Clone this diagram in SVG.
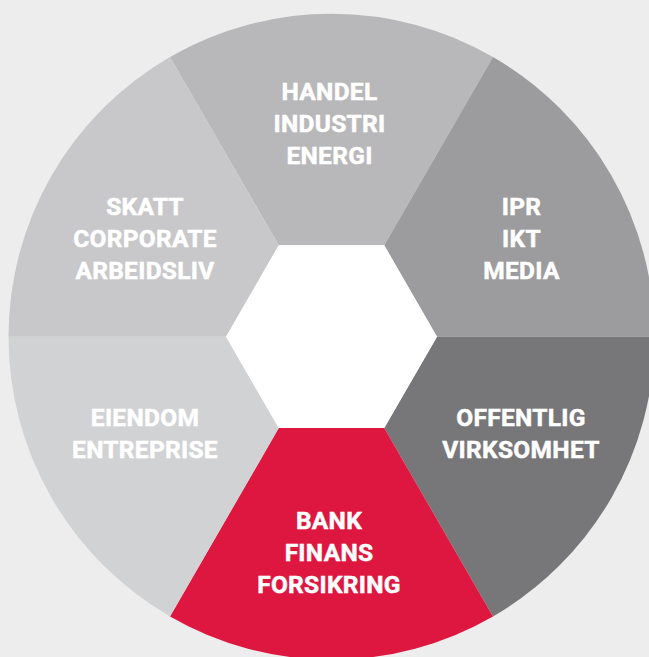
<svg xmlns="http://www.w3.org/2000/svg" width="649" height="657" viewBox="0 0 649 657">
<style>
.lbl{font-family:Roboto,"Liberation Sans",sans-serif;font-weight:bold;font-size:24.5px;letter-spacing:0.3px;fill:#ffffff;stroke:#ffffff;stroke-width:0.5px;text-anchor:middle}
</style>
<rect x="0" y="0" width="649" height="657" fill="#ededed"/>
<g id="sector-handel">
<path d="M278.75 245.3 L170 57 A323 323 0 0 1 493 57 L384.25 245.3 Z" fill="#b8b8ba"/>
<text class="lbl" x="329.5" y="99.5">HANDEL</text>
<text class="lbl" x="329.5" y="131.5">INDUSTRI</text>
<text class="lbl" x="329.5" y="163.5">ENERGI</text>
</g>
<g id="sector-ipr">
<path d="M384.25 245.3 L493 57 A323 323 0 0 1 654.5 336.7 L437 336.7 Z" fill="#9c9c9e"/>
<text class="lbl" x="521.5" y="215">IPR</text>
<text class="lbl" x="521.5" y="247">IKT</text>
<text class="lbl" x="521.5" y="279">MEDIA</text>
</g>
<g id="sector-offentlig">
<path d="M437 336.7 L654.5 336.7 A323 323 0 0 1 493 616.4 L384.25 428.1 Z" fill="#777779"/>
<text class="lbl" x="521" y="425.5">OFFENTLIG</text>
<text class="lbl" x="521" y="458">VIRKSOMHET</text>
</g>
<g id="sector-bank">
<path d="M384.25 428.1 L493 616.4 A323 323 0 0 1 170 616.4 L278.75 428.1 Z" fill="#de1740"/>
<text class="lbl" x="329" y="529">BANK</text>
<text class="lbl" x="329" y="561">FINANS</text>
<text class="lbl" x="329" y="593">FORSIKRING</text>
</g>
<g id="sector-eiendom">
<path d="M278.75 428.1 L170 616.4 A323 323 0 0 1 8.5 336.7 L226 336.7 Z" fill="#d1d2d4"/>
<text class="lbl" x="145" y="425.5">EIENDOM</text>
<text class="lbl" x="145" y="458">ENTREPRISE</text>
</g>
<g id="sector-skatt">
<path d="M226 336.7 L8.5 336.7 A323 323 0 0 1 170 57 L278.75 245.3 Z" fill="#c8c8ca"/>
<text class="lbl" x="145" y="214.5">SKATT</text>
<text class="lbl" x="145" y="247">CORPORATE</text>
<text class="lbl" x="145" y="279">ARBEIDSLIV</text>
</g>
<g id="hexagon">
<polygon points="437,336.7 384.25,428.1 278.75,428.1 226,336.7 278.75,245.3 384.25,245.3" fill="#ffffff"/>
</g>
<g id="connectors"/>
</svg>
